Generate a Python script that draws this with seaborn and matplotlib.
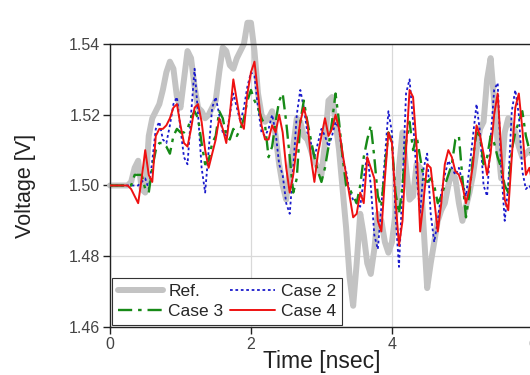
import numpy as np
import pandas as pd
import matplotlib
matplotlib.use("Agg")
import matplotlib.pyplot as plt
import seaborn as sns

# --- DATA (0.05 ns step) ---
time_ns = np.round(np.arange(0, 6.001, 0.05), 2)

ref = [1.500, 1.500, 1.500, 1.500, 1.500, 1.500, 1.501, 1.505, 1.507, 1.499,
       1.498, 1.514, 1.519, 1.521, 1.523, 1.527, 1.532, 1.535, 1.533, 1.525,
       1.522, 1.530, 1.538, 1.536, 1.528, 1.522, 1.521, 1.519, 1.520, 1.522,
       1.524, 1.532, 1.539, 1.538, 1.534, 1.533, 1.536, 1.538, 1.540, 1.546,
       1.546, 1.538, 1.526, 1.520, 1.518, 1.519, 1.521, 1.514, 1.506, 1.500,
       1.496, 1.505, 1.511, 1.519, 1.518, 1.514, 1.513, 1.510, 1.507, 1.505,
       1.503, 1.512, 1.524, 1.525, 1.518, 1.510, 1.499, 1.488, 1.474, 1.466,
       1.478, 1.492, 1.486, 1.478, 1.475, 1.482, 1.492, 1.490, 1.484, 1.481,
       1.484, 1.492, 1.505, 1.515, 1.505, 1.496, 1.497, 1.506, 1.505, 1.488,
       1.471, 1.478, 1.484, 1.490, 1.493, 1.495, 1.500, 1.504, 1.502, 1.495,
       1.490, 1.494, 1.498, 1.503, 1.510, 1.516, 1.518, 1.530, 1.536, 1.524,
       1.512, 1.502, 1.515, 1.519, 1.517, 1.515, 1.511, 1.508, 1.509, 1.510,
       1.508]

case2 = [1.500, 1.500, 1.500, 1.500, 1.500, 1.500, 1.500, 1.500, 1.500, 1.501,
         1.502, 1.499, 1.507, 1.516, 1.518, 1.513, 1.512, 1.517, 1.523, 1.525,
         1.516, 1.508, 1.506, 1.520, 1.533, 1.520, 1.505, 1.498, 1.510, 1.522,
         1.525, 1.520, 1.515, 1.514, 1.520, 1.526, 1.522, 1.518, 1.522, 1.528,
         1.532, 1.531, 1.522, 1.515, 1.514, 1.516, 1.520, 1.515, 1.506, 1.503,
         1.495, 1.492, 1.505, 1.520, 1.527, 1.522, 1.515, 1.512, 1.508, 1.512,
         1.516, 1.514, 1.511, 1.514, 1.518, 1.516, 1.508, 1.504, 1.498, 1.496,
         1.495, 1.494, 1.502, 1.509, 1.500, 1.486, 1.482, 1.494, 1.508, 1.521,
         1.515, 1.492, 1.477, 1.500, 1.526, 1.530, 1.518, 1.503, 1.492, 1.505,
         1.509, 1.492, 1.484, 1.490, 1.498, 1.503, 1.507, 1.505, 1.503, 1.505,
         1.501, 1.497, 1.505, 1.514, 1.523, 1.515, 1.500, 1.497, 1.513, 1.527,
         1.529, 1.505, 1.490, 1.500, 1.521, 1.527, 1.520, 1.504, 1.499, 1.500,
         1.498]

case3 = [1.500, 1.500, 1.500, 1.500, 1.500, 1.500, 1.500, 1.503, 1.503, 1.503,
         1.499, 1.498, 1.505, 1.510, 1.512, 1.512, 1.511, 1.509, 1.514, 1.516,
         1.515, 1.515, 1.516, 1.519, 1.521, 1.519, 1.512, 1.506, 1.507, 1.512,
         1.514, 1.521, 1.519, 1.514, 1.513, 1.516, 1.514, 1.516, 1.519, 1.524,
         1.527, 1.524, 1.522, 1.519, 1.517, 1.508, 1.511, 1.518, 1.524, 1.526,
         1.518, 1.508, 1.498, 1.502, 1.518, 1.524, 1.518, 1.513, 1.508, 1.504,
         1.501, 1.505, 1.511, 1.518, 1.526, 1.518, 1.508, 1.500, 1.499, 1.497,
         1.495, 1.500, 1.508, 1.513, 1.517, 1.508, 1.497, 1.494, 1.505, 1.515,
         1.512, 1.498, 1.492, 1.500, 1.512, 1.518, 1.510, 1.514, 1.508, 1.502,
         1.501, 1.502, 1.500, 1.495, 1.497, 1.500, 1.503, 1.506, 1.513, 1.514,
         1.502, 1.491, 1.498, 1.508, 1.515, 1.514, 1.506, 1.508, 1.514, 1.512,
         1.508, 1.505, 1.500, 1.498, 1.510, 1.515, 1.518, 1.521, 1.514, 1.510,
         1.508]

case4 = [1.500, 1.500, 1.500, 1.500, 1.500, 1.500, 1.499, 1.497, 1.495, 1.502,
         1.510, 1.503, 1.501, 1.514, 1.516, 1.516, 1.517, 1.519, 1.522, 1.523,
         1.517, 1.512, 1.511, 1.516, 1.522, 1.523, 1.518, 1.510, 1.505, 1.509,
         1.513, 1.519, 1.516, 1.512, 1.520, 1.530, 1.524, 1.518, 1.516, 1.526,
         1.532, 1.535, 1.526, 1.517, 1.513, 1.513, 1.517, 1.515, 1.520, 1.515,
         1.505, 1.498, 1.503, 1.511, 1.518, 1.522, 1.518, 1.508, 1.501, 1.509,
         1.514, 1.519, 1.514, 1.516, 1.520, 1.516, 1.509, 1.503, 1.497, 1.491,
         1.492, 1.498, 1.495, 1.508, 1.505, 1.502, 1.490, 1.487, 1.502, 1.515,
         1.512, 1.496, 1.483, 1.490, 1.510, 1.527, 1.525, 1.511, 1.487, 1.496,
         1.506, 1.505, 1.496, 1.487, 1.495, 1.506, 1.510, 1.508, 1.504, 1.503,
         1.500, 1.495, 1.499, 1.506, 1.517, 1.514, 1.509, 1.503, 1.509, 1.520,
         1.526, 1.510, 1.496, 1.493, 1.508, 1.522, 1.526, 1.516, 1.503, 1.505,
         1.500]

x_ticks = [0, 2, 4, 6]
y_ticks = [1.46, 1.48, 1.50, 1.52, 1.54]

sns.set_theme(style="whitegrid")
plt.rcParams['font.family'] = ['Liberation Sans', 'DejaVu Sans']

fig = plt.figure(figsize=(5.3, 3.75), dpi=100)
ax = fig.add_axes([0.2075, 0.128, 0.798, 0.7547])

# gray reference drawn first, thick; peaks poke above the top frame
sns.lineplot(x=time_ns, y=ref, ax=ax, color='#c3c3c3', linewidth=4.3,
             label='Ref.', clip_on=False, zorder=2)
sns.lineplot(x=time_ns, y=case2, ax=ax, color='#1a1acc', linewidth=1.3,
             linestyle=(0, (1.5, 1.5)), label='Case 2', zorder=3)
sns.lineplot(x=time_ns, y=case3, ax=ax, color='#178a17', linewidth=1.7,
             linestyle=(0, (6, 2.5, 1.5, 2.5)), label='Case 3', zorder=4)
sns.lineplot(x=time_ns, y=case4, ax=ax, color='#ee1111', linewidth=1.4,
             label='Case 4', zorder=5)

ax.set_xlim(0, 6)
ax.set_ylim(1.46, 1.54)
ax.set_xticks(x_ticks)
ax.set_yticks(y_ticks)
ax.set_yticklabels([f"{v:.2f}" for v in y_ticks])
ax.grid(True, color='#d9d9d9', linewidth=0.9)
ax.set_axisbelow(True)

for side in ['left', 'bottom', 'top', 'right']:
    ax.spines[side].set_visible(True)
    ax.spines[side].set_color('#222222')
    ax.spines[side].set_linewidth(1.0)

ax.tick_params(axis='both', direction='out', length=5, width=1,
               color='#222222', labelsize=11.5, labelcolor='#444444', pad=2,
               left=True, bottom=True)

ax.set_xlabel('Time [nsec]', fontsize=16.5, color='#222222', labelpad=-1)
ax.set_ylabel('Voltage [V]', fontsize=15.5, color='#222222', labelpad=24)

# legend: 2 columns, Ref./Case 3 in first column, Case 2/Case 4 in second
h, l = ax.get_legend_handles_labels()
order = [0, 2, 1, 3]
leg = ax.legend([h[i] for i in order], [l[i] for i in order],
                loc='lower left', ncol=2, fontsize=12.5, frameon=True,
                fancybox=False, framealpha=1, edgecolor='#333333',
                borderaxespad=0.1, handlelength=2.6, handletextpad=0.3,
                columnspacing=0.4, labelspacing=0.3, borderpad=0.35)
leg.get_frame().set_linewidth(0.8)

fig.savefig('out.png', dpi=100)
